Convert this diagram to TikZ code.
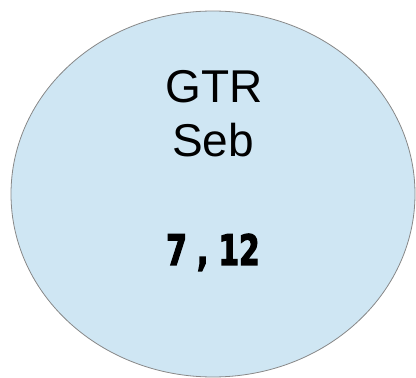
\documentclass[tikz,border=0pt]{standalone}
\usepackage{fontspec}
\setmainfont{Liberation Sans}
\newfontfamily\numfont[FakeStretch=0.78, FakeBold=3]{DejaVu Sans Condensed Bold}
\usepackage{xcolor}
\usepackage{tikz}
\definecolor{bubblefill}{RGB}{207,230,243}
\definecolor{bubbleline}{RGB}{136,136,136}

\begin{document}
\begin{tikzpicture}[x=1pt, y=1pt,
        player/.style={anchor=base, font=\fontsize{46}{55}\selectfont, inner sep=0pt},
        score/.style={anchor=base, font=\numfont\fontsize{42}{50}\selectfont, inner sep=0pt}]
                % Marco
                \useasboundingbox (0,0) rectangle (416,378);
                % Elipse
                \draw[fill=bubblefill, draw=bubbleline, line width=0.8pt] (213,184) ellipse (202 and 183);
                % Nombre
                \node[player] (gtr) at (214,275) {GTR};
                \node[player] (seb) at (213,221) {Seb};
                % Puntos
                \node[score] (pts) at (213,113) {7 , 12};
            \end{tikzpicture}
\end{document}
